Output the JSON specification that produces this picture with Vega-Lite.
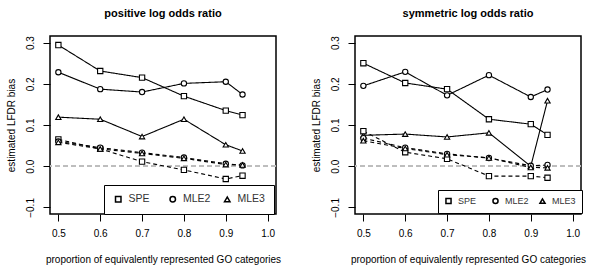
{
  "$schema": "https://vega.github.io/schema/vega-lite/v6.json",
  "padding": {"left": 5, "top": 6, "right": 5, "bottom": 5},
  "background": "white",
  "config": {
    "font": "Liberation Sans",
    "view": {"stroke": "black", "strokeWidth": 1.5},
    "axis": {"labelFont": "Liberation Sans", "titleFont": "Liberation Sans", "labelFontSize": 10, "titleFontSize": 10, "labelColor": "black", "titleColor": "black", "titleFontWeight": "normal", "grid": false, "domain": false, "tickColor": "black", "tickSize": 7, "tickWidth": 1},
    "title": {"font": "Liberation Sans", "fontSize": 11, "fontWeight": "bold", "color": "black"}
  },
  "spacing": 79,
  "bounds": "flush",
  "resolve": {"legend": {"shape": "independent", "strokeDash": "independent"}},
  "datasets": {
    "bias": [
      {"panel": "pos", "method": "SPE", "kind": "upper", "x": 0.5, "y": 0.294},
      {"panel": "pos", "method": "SPE", "kind": "upper", "x": 0.6, "y": 0.231},
      {"panel": "pos", "method": "SPE", "kind": "upper", "x": 0.7, "y": 0.215},
      {"panel": "pos", "method": "SPE", "kind": "upper", "x": 0.8, "y": 0.170},
      {"panel": "pos", "method": "SPE", "kind": "upper", "x": 0.9, "y": 0.135},
      {"panel": "pos", "method": "SPE", "kind": "upper", "x": 0.94, "y": 0.124},
      {"panel": "pos", "method": "MLE2", "kind": "upper", "x": 0.5, "y": 0.228},
      {"panel": "pos", "method": "MLE2", "kind": "upper", "x": 0.6, "y": 0.187},
      {"panel": "pos", "method": "MLE2", "kind": "upper", "x": 0.7, "y": 0.180},
      {"panel": "pos", "method": "MLE2", "kind": "upper", "x": 0.8, "y": 0.201},
      {"panel": "pos", "method": "MLE2", "kind": "upper", "x": 0.9, "y": 0.205},
      {"panel": "pos", "method": "MLE2", "kind": "upper", "x": 0.94, "y": 0.174},
      {"panel": "pos", "method": "MLE3", "kind": "upper", "x": 0.5, "y": 0.119},
      {"panel": "pos", "method": "MLE3", "kind": "upper", "x": 0.6, "y": 0.114},
      {"panel": "pos", "method": "MLE3", "kind": "upper", "x": 0.7, "y": 0.072},
      {"panel": "pos", "method": "MLE3", "kind": "upper", "x": 0.8, "y": 0.114},
      {"panel": "pos", "method": "MLE3", "kind": "upper", "x": 0.9, "y": 0.052},
      {"panel": "pos", "method": "MLE3", "kind": "upper", "x": 0.94, "y": 0.037},
      {"panel": "pos", "method": "SPE", "kind": "lower", "x": 0.5, "y": 0.065},
      {"panel": "pos", "method": "SPE", "kind": "lower", "x": 0.6, "y": 0.042},
      {"panel": "pos", "method": "SPE", "kind": "lower", "x": 0.7, "y": 0.011},
      {"panel": "pos", "method": "SPE", "kind": "lower", "x": 0.8, "y": -0.009},
      {"panel": "pos", "method": "SPE", "kind": "lower", "x": 0.9, "y": -0.031},
      {"panel": "pos", "method": "SPE", "kind": "lower", "x": 0.94, "y": -0.023},
      {"panel": "pos", "method": "MLE2", "kind": "lower", "x": 0.5, "y": 0.060},
      {"panel": "pos", "method": "MLE2", "kind": "lower", "x": 0.6, "y": 0.045},
      {"panel": "pos", "method": "MLE2", "kind": "lower", "x": 0.7, "y": 0.033},
      {"panel": "pos", "method": "MLE2", "kind": "lower", "x": 0.8, "y": 0.021},
      {"panel": "pos", "method": "MLE2", "kind": "lower", "x": 0.9, "y": 0.006},
      {"panel": "pos", "method": "MLE2", "kind": "lower", "x": 0.94, "y": 0.002},
      {"panel": "pos", "method": "MLE3", "kind": "lower", "x": 0.5, "y": 0.058},
      {"panel": "pos", "method": "MLE3", "kind": "lower", "x": 0.6, "y": 0.042},
      {"panel": "pos", "method": "MLE3", "kind": "lower", "x": 0.7, "y": 0.031},
      {"panel": "pos", "method": "MLE3", "kind": "lower", "x": 0.8, "y": 0.019},
      {"panel": "pos", "method": "MLE3", "kind": "lower", "x": 0.9, "y": 0.004},
      {"panel": "pos", "method": "MLE3", "kind": "lower", "x": 0.94, "y": 0.003},
      {"panel": "sym", "method": "SPE", "kind": "upper", "x": 0.5, "y": 0.250},
      {"panel": "sym", "method": "SPE", "kind": "upper", "x": 0.6, "y": 0.202},
      {"panel": "sym", "method": "SPE", "kind": "upper", "x": 0.7, "y": 0.187},
      {"panel": "sym", "method": "SPE", "kind": "upper", "x": 0.8, "y": 0.114},
      {"panel": "sym", "method": "SPE", "kind": "upper", "x": 0.9, "y": 0.102},
      {"panel": "sym", "method": "SPE", "kind": "upper", "x": 0.94, "y": 0.076},
      {"panel": "sym", "method": "MLE2", "kind": "upper", "x": 0.5, "y": 0.195},
      {"panel": "sym", "method": "MLE2", "kind": "upper", "x": 0.6, "y": 0.229},
      {"panel": "sym", "method": "MLE2", "kind": "upper", "x": 0.7, "y": 0.172},
      {"panel": "sym", "method": "MLE2", "kind": "upper", "x": 0.8, "y": 0.221},
      {"panel": "sym", "method": "MLE2", "kind": "upper", "x": 0.9, "y": 0.168},
      {"panel": "sym", "method": "MLE2", "kind": "upper", "x": 0.94, "y": 0.186},
      {"panel": "sym", "method": "MLE3", "kind": "upper", "x": 0.5, "y": 0.075},
      {"panel": "sym", "method": "MLE3", "kind": "upper", "x": 0.6, "y": 0.078},
      {"panel": "sym", "method": "MLE3", "kind": "upper", "x": 0.7, "y": 0.071},
      {"panel": "sym", "method": "MLE3", "kind": "upper", "x": 0.8, "y": 0.081},
      {"panel": "sym", "method": "MLE3", "kind": "upper", "x": 0.9, "y": 0.000},
      {"panel": "sym", "method": "MLE3", "kind": "upper", "x": 0.94, "y": 0.159},
      {"panel": "sym", "method": "SPE", "kind": "lower", "x": 0.5, "y": 0.085},
      {"panel": "sym", "method": "SPE", "kind": "lower", "x": 0.6, "y": 0.034},
      {"panel": "sym", "method": "SPE", "kind": "lower", "x": 0.7, "y": 0.018},
      {"panel": "sym", "method": "SPE", "kind": "lower", "x": 0.8, "y": -0.024},
      {"panel": "sym", "method": "SPE", "kind": "lower", "x": 0.9, "y": -0.024},
      {"panel": "sym", "method": "SPE", "kind": "lower", "x": 0.94, "y": -0.028},
      {"panel": "sym", "method": "MLE2", "kind": "lower", "x": 0.5, "y": 0.068},
      {"panel": "sym", "method": "MLE2", "kind": "lower", "x": 0.6, "y": 0.045},
      {"panel": "sym", "method": "MLE2", "kind": "lower", "x": 0.7, "y": 0.030},
      {"panel": "sym", "method": "MLE2", "kind": "lower", "x": 0.8, "y": 0.020},
      {"panel": "sym", "method": "MLE2", "kind": "lower", "x": 0.9, "y": 0.001},
      {"panel": "sym", "method": "MLE2", "kind": "lower", "x": 0.94, "y": 0.003},
      {"panel": "sym", "method": "MLE3", "kind": "lower", "x": 0.5, "y": 0.062},
      {"panel": "sym", "method": "MLE3", "kind": "lower", "x": 0.6, "y": 0.043},
      {"panel": "sym", "method": "MLE3", "kind": "lower", "x": 0.7, "y": 0.028},
      {"panel": "sym", "method": "MLE3", "kind": "lower", "x": 0.8, "y": 0.020},
      {"panel": "sym", "method": "MLE3", "kind": "lower", "x": 0.9, "y": -0.003},
      {"panel": "sym", "method": "MLE3", "kind": "lower", "x": 0.94, "y": -0.004}
    ]
  },
  "hconcat": [
    {
      "width": 226,
      "height": 178,
      "title": {"text": "positive log odds ratio", "offset": 17},
      "data": {"name": "bias"},
      "transform": [{"filter": "datum.panel === 'pos'"}],
      "encoding": {
        "x": {"field": "x", "type": "quantitative", "scale": {"domain": [0.48, 1.02], "nice": false, "zero": false},
              "axis": {"values": [0.5, 0.6, 0.7, 0.8, 0.9, 1.0], "format": ".1f", "title": "proportion of equivalently represented GO categories", "labelPadding": 7, "titlePadding": 16}},
        "y": {"field": "y", "type": "quantitative", "scale": {"domain": [-0.116, 0.316], "nice": false, "zero": false},
              "axis": {"values": [-0.1, 0.0, 0.1, 0.2, 0.3], "format": ".1f", "labelAngle": -90, "labelAlign": "center", "labelBaseline": "bottom", "labelPadding": 8, "title": "estimated LFDR bias", "titlePadding": 9}}
      },
      "layer": [
        {"mark": {"type": "rule", "color": "#bdbdbd", "strokeDash": [5, 3], "strokeWidth": 1.2}, "encoding": {"y": {"datum": 0}, "x": null}},
        {"mark": {"type": "line", "color": "black", "strokeWidth": 1.1},
         "encoding": {"detail": {"field": "method"}, "strokeDash": {"field": "kind", "type": "nominal", "scale": {"domain": ["upper", "lower"], "range": [[1, 0], [4, 3]]}, "legend": null}}},
        {"mark": {"type": "point", "filled": true, "fill": "white", "stroke": "black", "strokeWidth": 1.1, "size": 28, "opacity": 1},
         "encoding": {"shape": {"field": "method", "type": "nominal", "scale": {"domain": ["SPE", "MLE2", "MLE3"], "range": ["square", "circle", "triangle-up"]},
           "legend": {"title": null, "orient": "none", "legendX": 54, "legendY": 149, "direction": "horizontal", "strokeColor": "black", "fillColor": "white", "padding": 9, "columnPadding": 10.5, "gridAlign": "all", "symbolSize": 30, "labelFontSize": 10.5, "labelColor": "#333333", "labelFont": "Liberation Sans", "labelOffset": 5,
             "encode": {"symbols": {"update": {"fill": {"value": "white"}, "stroke": {"value": "black"}, "strokeWidth": {"value": 1}, "opacity": {"value": 1}, "fillOpacity": {"value": 1}, "strokeOpacity": {"value": 1}}}}}}}}
      ]
    },
    {
      "width": 226,
      "height": 178,
      "title": {"text": "symmetric log odds ratio", "offset": 17},
      "data": {"name": "bias"},
      "transform": [{"filter": "datum.panel === 'sym'"}],
      "encoding": {
        "x": {"field": "x", "type": "quantitative", "scale": {"domain": [0.48, 1.02], "nice": false, "zero": false},
              "axis": {"values": [0.5, 0.6, 0.7, 0.8, 0.9, 1.0], "format": ".1f", "title": "proportion of equivalently represented GO categories", "labelPadding": 7, "titlePadding": 16}},
        "y": {"field": "y", "type": "quantitative", "scale": {"domain": [-0.116, 0.316], "nice": false, "zero": false},
              "axis": {"values": [-0.1, 0.0, 0.1, 0.2, 0.3], "format": ".1f", "labelAngle": -90, "labelAlign": "center", "labelBaseline": "bottom", "labelPadding": 8, "title": "estimated LFDR bias", "titlePadding": 9}}
      },
      "layer": [
        {"mark": {"type": "rule", "color": "#bdbdbd", "strokeDash": [5, 3], "strokeWidth": 1.2}, "encoding": {"y": {"datum": 0}, "x": null}},
        {"mark": {"type": "line", "color": "black", "strokeWidth": 1.1},
         "encoding": {"detail": {"field": "method"}, "strokeDash": {"field": "kind", "type": "nominal", "scale": {"domain": ["upper", "lower"], "range": [[1, 0], [4, 3]]}, "legend": null}}},
        {"mark": {"type": "point", "filled": true, "fill": "white", "stroke": "black", "strokeWidth": 1.1, "size": 28, "opacity": 1},
         "encoding": {"shape": {"field": "method", "type": "nominal", "scale": {"domain": ["SPE", "MLE2", "MLE3"], "range": ["square", "circle", "triangle-up"]},
           "legend": {"title": null, "orient": "none", "legendX": 83, "legendY": 154, "direction": "horizontal", "strokeColor": "black", "fillColor": "white", "padding": 6, "columnPadding": 7, "gridAlign": "all", "symbolSize": 26, "labelFontSize": 9, "labelColor": "#333333", "labelFont": "Liberation Sans", "labelOffset": 5,
             "encode": {"symbols": {"update": {"fill": {"value": "white"}, "stroke": {"value": "black"}, "strokeWidth": {"value": 1}, "opacity": {"value": 1}, "fillOpacity": {"value": 1}, "strokeOpacity": {"value": 1}}}}}}}}
      ]
    }
  ]
}
